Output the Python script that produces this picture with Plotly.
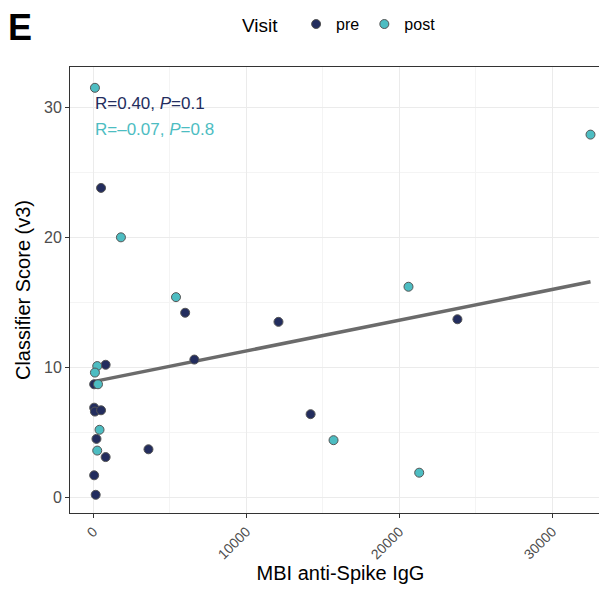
import numpy as np
import plotly.graph_objects as go

pre_x = [500, 6000, 6600, 800, 50, 50, 100, 500, 200, 800, 3600, 50, 150, 12100, 14200, 23800]
pre_y = [23.8, 14.2, 10.6, 10.2, 8.7, 6.9, 6.6, 6.7, 4.5, 3.1, 3.7, 1.7, 0.2, 13.5, 6.4, 13.7]
post_x = [100, 1800, 5400, 250, 100, 300, 400, 250, 15700, 20600, 21300, 32500]
post_y = [31.5, 20.0, 15.4, 10.1, 9.6, 8.7, 5.2, 3.6, 4.4, 16.2, 1.9, 27.9]
x_ticks = [0, 10000, 20000, 30000]
y_ticks = [0, 10, 20, 30]

ax = np.array(pre_x + post_x); ay = np.array(pre_y + post_y)
b, a = np.polyfit(ax, ay, 1)
lx = np.array([0, max(ax)])

fig = go.Figure()
fig.add_trace(go.Scatter(x=lx, y=a + b * lx, mode="lines", line=dict(color="#6b6b6b", width=3.5), showlegend=False))
mk = dict(size=9, line=dict(color="#555555", width=1))
fig.add_trace(go.Scatter(x=pre_x, y=pre_y, mode="markers", name="pre", marker=dict(color="#232d5e", **mk)))
fig.add_trace(go.Scatter(x=post_x, y=post_y, mode="markers", name="post", marker=dict(color="#4dbdc2", **mk)))

fig.update_layout(
    width=607, height=591, plot_bgcolor="white", paper_bgcolor="white",
    margin=dict(l=62, r=4, t=59, b=86, autoexpand=False),
    font=dict(family="Liberation Sans, Arial", size=16, color="#333"),
    legend=dict(orientation="h", x=0.5, xanchor="center", y=1.095, yanchor="middle",
                title=dict(text="Visit  ", font=dict(size=19, color="black")), font=dict(size=16, color="black")),
    annotations=[
        dict(text="<b>E</b>", x=0, y=1, xref="paper", yref="paper", xanchor="left", yanchor="top",
             showarrow=False, font=dict(size=36, color="black"), xshift=-64, yshift=62),
        dict(text="R=0.40, <i>P</i>=0.1", x=0, y=30.3, xanchor="left", yanchor="middle", showarrow=False,
             font=dict(size=17, color="#232d5e")),
        dict(text="R=\u20130.07, <i>P</i>=0.8", x=0, y=28.3, xanchor="left", yanchor="middle", showarrow=False,
             font=dict(size=17, color="#4dbdc2")),
    ],
)
fig.update_xaxes(range=[-1530, 33840], tickvals=x_ticks, ticktext=[str(v) for v in x_ticks], tickangle=-45,
                 showline=True, linecolor="#333", mirror=True, gridcolor="#ebebeb", ticks="outside",
                 ticklen=4, tickcolor="#333", zeroline=False, tickfont=dict(size=14, color="#4d4d4d"),
                 title=dict(text="MBI anti-Spike IgG", font=dict(size=20, color="black"), standoff=4),
                 minor=dict(showgrid=True, gridcolor="#f4f4f4", dtick=5000))
fig.update_yaxes(range=[-1.2, 33.1], tickvals=y_ticks,
                 showline=True, linecolor="#333", mirror=True, gridcolor="#ebebeb", ticks="outside",
                 ticklen=4, tickcolor="#333", zeroline=False, tickfont=dict(size=16, color="#4d4d4d"),
                 title=dict(text="Classifier Score (v3)", font=dict(size=20, color="black"), standoff=8),
                 minor=dict(showgrid=True, gridcolor="#f4f4f4", dtick=5))
fig.write_html("out.html")
